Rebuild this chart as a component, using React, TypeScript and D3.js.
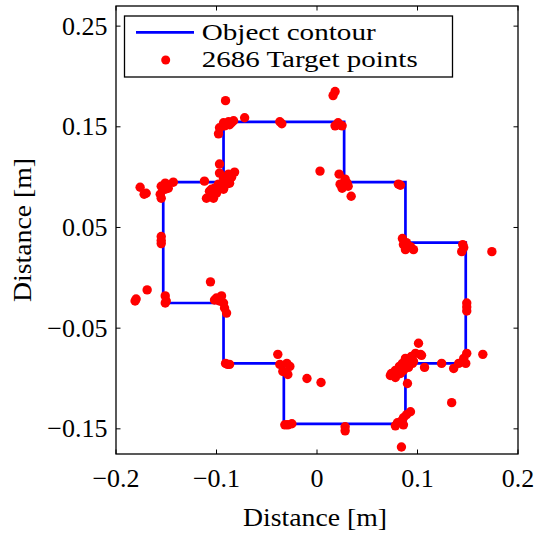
import React from "react";
import * as d3 from "d3";

const X_TICKS = [-0.2, -0.1, 0, 0.1, 0.2];
const Y_TICKS = [-0.15, -0.05, 0.05, 0.15, 0.25];
const X_DOMAIN = [-0.2, 0.2];
const Y_DOMAIN = [-0.175, 0.27];

const X_LABEL = "Distance [m]";
const Y_LABEL = "Distance [m]";
const LEGEND_LINE = "Object contour";
const LEGEND_POINTS = "2686 Target points";

const contourX = [-0.093, 0.027, 0.027, 0.088, 0.088, 0.148, 0.148, 0.088, 0.088, -0.033, -0.033, -0.093, -0.093, -0.153, -0.153, -0.093, -0.093];
const contourY = [0.155, 0.155, 0.095, 0.095, 0.035, 0.035, -0.085, -0.085, -0.145, -0.145, -0.085, -0.085, -0.025, -0.025, 0.095, 0.095, 0.155];

const pointsX = [
  -0.091, -0.072, -0.093, -0.088, -0.083, -0.097, -0.098, -0.087, -0.092, -0.085,
  -0.097, -0.082, -0.088, -0.093, -0.088, -0.098, -0.102, -0.107, -0.110, -0.103,
  -0.095, -0.090, -0.112, -0.097, -0.087, -0.093, -0.100, -0.105, -0.097, -0.085,
  -0.176, -0.172, -0.170, -0.155, -0.151, -0.143, -0.148, -0.156, -0.155, -0.151,
  -0.155, -0.155, -0.155,
  -0.169, -0.180, -0.181, -0.151, -0.151, -0.150, -0.106, -0.100, -0.095, -0.093,
  -0.092, -0.090, -0.097, -0.102,
  -0.089, -0.091, -0.087,
  -0.039, -0.037, -0.030, -0.027, -0.034, -0.029, -0.010, 0.004,
  -0.029, -0.032, -0.025, 0.028, 0.028,
  0.084, 0.134, 0.165, 0.101,
  0.107, 0.124, 0.136, 0.141, 0.146, 0.149, 0.148, 0.149, 0.149, 0.149,
  0.103, 0.098, 0.094, 0.091, 0.088, 0.085, 0.082, 0.078, 0.074, 0.073,
  0.078, 0.083, 0.086, 0.091, 0.096, 0.104, 0.090, 0.093, 0.089, 0.086,
  0.083, 0.080, 0.078, 0.086, 0.088, 0.095,
  0.085, 0.086, 0.089, 0.088, 0.096, 0.093, 0.145, 0.144, 0.146, 0.174,
  0.022, 0.028, 0.030, 0.023, 0.025, 0.031, 0.034, 0.003, 0.083, 0.081,
  0.022, 0.018, 0.025, 0.021, 0.016, 0.018,
  -0.037, -0.035,
];
const pointsY = [
  0.176, 0.159, 0.154, 0.155, 0.156, 0.149, 0.143, 0.152, 0.151, 0.154,
  0.113, 0.105, 0.103, 0.099, 0.096, 0.093, 0.089, 0.086, 0.079, 0.079,
  0.089, 0.093, 0.096, 0.104, 0.094, 0.088, 0.084, 0.088, 0.091, 0.100,
  0.090, 0.083, 0.084, 0.091, 0.094, 0.095, 0.089, 0.083, 0.079, 0.088,
  0.041, 0.037, 0.034,
  -0.012, -0.021, -0.023, -0.018, -0.025, -0.023, -0.004, -0.020, -0.018, -0.025,
  -0.030, -0.035, -0.023, -0.022,
  -0.086, -0.085, -0.086,
  -0.076, -0.086, -0.085, -0.088, -0.093, -0.096, -0.100, -0.104,
  -0.146, -0.146, -0.145, -0.148, -0.152,
  -0.168, -0.124, -0.076, -0.065,
  -0.089, -0.085, -0.090, -0.085, -0.080, -0.075, -0.085, -0.025, -0.029, -0.033,
  -0.076, -0.075, -0.078, -0.081, -0.083, -0.085, -0.088, -0.092, -0.095, -0.097,
  -0.099, -0.095, -0.092, -0.089, -0.083, -0.077, -0.105, -0.133, -0.136, -0.139,
  -0.143, -0.144, -0.147, -0.146, -0.080, -0.085,
  0.039, 0.033, 0.035, 0.028, 0.028, 0.031, 0.033, 0.026, 0.030, 0.026,
  0.103, 0.098, 0.094, 0.093, 0.089, 0.091, 0.081, 0.106, 0.092, 0.093,
  0.152, 0.151, 0.151, 0.154, 0.181, 0.185,
  0.155, 0.153,
];

const W = 538;
const H = 537;
const M = { left: 116, right: 518, top: 6, bottom: 454 };
const FONT = "Liberation Serif, DejaVu Serif, serif";
const BLUE = "#0000ff";
const RED = "#ff0000";
const TS: React.CSSProperties = { fontFamily: FONT, fontSize: "26px" };
const LS: React.CSSProperties = { fontFamily: FONT, fontSize: "24px" };

const fmt = (v: number) => {
  const s = d3.format("")(Number(v.toFixed(3)));
  return s.replace("-", "\u2212");
};

export default function App() {
  const x = d3.scaleLinear().domain(X_DOMAIN).range([M.left, M.right]);
  const y = d3.scaleLinear().domain(Y_DOMAIN).range([M.bottom, M.top]);
  const line = d3
    .line<number>()
    .x((_, i) => x(contourX[i]))
    .y((_, i) => y(contourY[i]));
  const contourPath = line(contourX) || "";
  const tick = 4.5;
  const r = 4.7;

  const lg = { x0: M.left + 8.5, y0: M.top + 10, w: 328, h: 61 };

  return (
    <svg
      width={W}
      height={H}
      style={{ position: "absolute", left: 0, top: 0, background: "#fff" }}
    >
      <rect x={0} y={0} width={W} height={H} fill="#fff" />
      <defs>
        <clipPath id="plotclip">
          <rect x={M.left} y={M.top} width={M.right - M.left} height={M.bottom - M.top} />
        </clipPath>
      </defs>
      <g clipPath="url(#plotclip)">
        <path d={contourPath} fill="none" stroke={BLUE} strokeWidth={2.7} strokeLinejoin="miter" />
        {pointsX.map((px, i) => (
          <circle key={i} cx={x(px)} cy={y(pointsY[i])} r={r} fill={RED} />
        ))}
      </g>
      <rect
        x={M.left}
        y={M.top}
        width={M.right - M.left}
        height={M.bottom - M.top}
        fill="none"
        stroke="#000"
        strokeWidth={1.3}
      />
      {X_TICKS.map((t) => (
        <g key={"xt" + t}>
          <line x1={x(t)} x2={x(t)} y1={M.bottom} y2={M.bottom - tick} stroke="#000" strokeWidth={1} />
          <line x1={x(t)} x2={x(t)} y1={M.top} y2={M.top + tick} stroke="#000" strokeWidth={1} />
          <text x={x(t)} y={487} textAnchor="middle" style={TS}>
            {fmt(t)}
          </text>
        </g>
      ))}
      {Y_TICKS.map((t) => (
        <g key={"yt" + t}>
          <line x1={M.left} x2={M.left + tick} y1={y(t)} y2={y(t)} stroke="#000" strokeWidth={1} />
          <line x1={M.right} x2={M.right - tick} y1={y(t)} y2={y(t)} stroke="#000" strokeWidth={1} />
          <text x={107.5} y={y(t) + 8.6} textAnchor="end" style={TS}>
            {fmt(t)}
          </text>
        </g>
      ))}
      <text x={315} y={526} textAnchor="middle" style={TS} textLength={144} lengthAdjust="spacingAndGlyphs">
        {X_LABEL}
      </text>
      <text
        transform={`translate(30.5, ${(M.top + M.bottom) / 2}) rotate(-90)`}
        textAnchor="middle"
        style={TS}
        textLength={144}
        lengthAdjust="spacingAndGlyphs"
      >
        {Y_LABEL}
      </text>
      <rect x={lg.x0} y={lg.y0} width={lg.w} height={lg.h} fill="#fff" stroke="#000" strokeWidth={1.3} />
      <line x1={136} x2={194} y1={32.3} y2={32.3} stroke={BLUE} strokeWidth={2.7} />
      <circle cx={165.7} cy={60} r={4.5} fill={RED} />
      <text x={201.7} y={39.5} style={LS} textLength={174} lengthAdjust="spacingAndGlyphs">
        {LEGEND_LINE}
      </text>
      <text x={201.7} y={66.5} style={LS} textLength={216} lengthAdjust="spacingAndGlyphs">
        {LEGEND_POINTS}
      </text>
    </svg>
  );
}
